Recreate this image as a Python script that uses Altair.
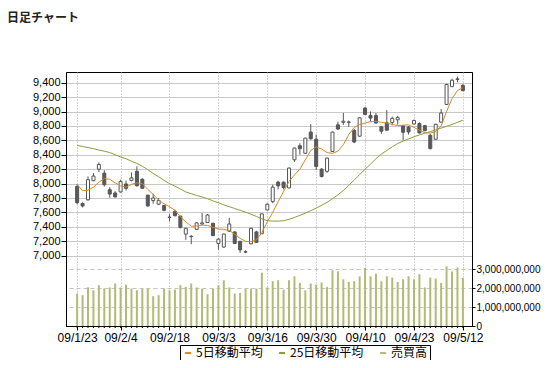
import altair as alt
import pandas as pd

# ---- data ----
dates = ["09/1/23", "09/1/26", "09/1/27", "09/1/28", "09/1/29", "09/1/30",
         "09/2/2", "09/2/3", "09/2/4", "09/2/5", "09/2/6", "09/2/9", "09/2/10", "09/2/12",
         "09/2/13", "09/2/16", "09/2/17", "09/2/18", "09/2/19", "09/2/20", "09/2/23",
         "09/2/24", "09/2/25", "09/2/26", "09/2/27",
         "09/3/2", "09/3/3", "09/3/4", "09/3/5", "09/3/6", "09/3/9", "09/3/10", "09/3/11",
         "09/3/12", "09/3/13", "09/3/16", "09/3/17", "09/3/18", "09/3/19", "09/3/23",
         "09/3/24", "09/3/25", "09/3/26", "09/3/27", "09/3/30", "09/3/31",
         "09/4/1", "09/4/2", "09/4/3", "09/4/6", "09/4/7", "09/4/8", "09/4/9", "09/4/10",
         "09/4/13", "09/4/14", "09/4/15", "09/4/16", "09/4/17", "09/4/20", "09/4/21",
         "09/4/22", "09/4/23", "09/4/24", "09/4/27", "09/4/28", "09/4/30",
         "09/5/1", "09/5/7", "09/5/8", "09/5/11", "09/5/12"]

tick_labels = ["09/1/23", "09/2/4", "09/2/18", "09/3/3", "09/3/16",
               "09/3/30", "09/4/10", "09/4/23", "09/5/12"]

opens = [7960, 7725, 7775, 8040, 8200, 8145, 7915, 7870, 7885, 7995, 8045, 8170,
         8060, 7840, 7765, 7715, 7695, 7530, 7615, 7550, 7300, 7265, 7365, 7440,
         7460, 7450, 7170, 7120, 7340, 7330, 7200, 7050, 7165, 7330, 7305, 7635,
         7750, 8020, 8020, 7940, 8330, 8525, 8420, 8715, 8615, 8200, 8170, 8445,
         8815, 8850, 8855, 8735, 8658, 9048, 8946, 8943, 8788, 8844, 8848, 8885,
         8800, 8784, 8827, 8832, 8804, 8670, 8615, 8852, 9098, 9345, 9445, 9362]

highs = [7995, 7740, 8100, 8145, 8295, 8185, 7950, 7895, 8055, 8040, 8155, 8240,
         8075, 7845, 7860, 7800, 7700, 7575, 7640, 7555, 7385, 7285, 7460, 7590,
         7580, 7455, 7240, 7305, 7525, 7335, 7205, 7075, 7385, 7345, 7585, 7725,
         7985, 8040, 8030, 8225, 8500, 8560, 8635, 8825, 8680, 8215, 8360, 8720,
         8860, 8980, 8875, 8760, 8925, 9060, 9000, 8980, 8795, 9020, 8930, 8940,
         8810, 8800, 8890, 8850, 8815, 8690, 8830, 9035, 9385, 9455, 9485, 9380]

lows = [7715, 7670, 7765, 8035, 8160, 7960, 7805, 7810, 7875, 7905, 8030, 7960,
        7925, 7680, 7720, 7700, 7615, 7475, 7545, 7380, 7220, 7160, 7360, 7430,
        7455, 7270, 7085, 7110, 7330, 7165, 7040, 7035, 7160, 7180, 7300, 7630,
        7730, 7920, 7920, 7935, 8300, 8400, 8410, 8610, 8190, 8085, 8150, 8440,
        8745, 8815, 8785, 8560, 8650, 8950, 8863, 8835, 8690, 8735, 8810, 8820,
        8600, 8680, 8820, 8695, 8725, 8475, 8610, 8850, 9090, 9340, 9405, 9280]

closes = [7735, 7690, 8055, 8105, 8265, 7985, 7855, 7815, 8030, 7935, 8080, 7970,
          7935, 7690, 7800, 7765, 7630, 7535, 7555, 7390, 7380, 7270, 7455, 7455,
          7565, 7280, 7230, 7300, 7440, 7170, 7080, 7055, 7380, 7185, 7580, 7715,
          7951, 7969, 7946, 8215, 8493, 8485, 8631, 8622, 8238, 8099, 8354, 8715,
          8757, 8865, 8850, 8577, 8913, 8960, 8909, 8840, 8727, 8741, 8905, 8915,
          8712, 8716, 8875, 8703, 8735, 8485, 8823, 8979, 9375, 9434, 9453, 9290]

ma5 = [7990, 7900, 7910, 7950, 8020, 8070, 8060, 8010, 7970, 7950, 7990, 8010,
       8000, 7920, 7850, 7770, 7720, 7680, 7630, 7540, 7470, 7410, 7410, 7425,
       7420, 7395, 7370, 7365, 7350, 7300, 7240, 7200, 7195, 7220, 7320, 7470,
       7600, 7750, 7890, 8030, 8120, 8200, 8330, 8460, 8510, 8480, 8430, 8420,
       8450, 8540, 8680, 8780, 8820, 8840, 8860, 8865, 8850, 8840, 8820, 8805,
       8810, 8815, 8780, 8740, 8705, 8700, 8720, 8800, 9000, 9180, 9290, 9330]

ma25 = [8530, 8515, 8500, 8485, 8465, 8450, 8430, 8400, 8370, 8345, 8310, 8280,
        8240, 8195, 8140, 8095, 8045, 8000, 7965, 7925, 7885, 7860, 7835, 7815,
        7790, 7760, 7735, 7705, 7680, 7655, 7630, 7605, 7575, 7545, 7510, 7485,
        7480, 7480, 7485, 7505, 7530, 7560, 7590, 7625, 7660, 7700, 7740, 7790,
        7845, 7905, 7975, 8050, 8125, 8200, 8270, 8345, 8410, 8460, 8510, 8555,
        8590, 8620, 8650, 8675, 8700, 8720, 8745, 8770, 8795, 8820, 8850, 8880]

volume_bn = [1.72, 1.63, 2.04, 1.89, 2.16, 1.98, 2.04, 2.25, 2.04, 2.19, 1.98, 1.89,
             1.98, 1.98, 1.58, 1.63, 1.98, 1.89, 1.93, 2.16, 2.07, 2.25, 2.04, 1.98,
             1.68, 1.98, 2.16, 2.42, 2.04, 1.72, 1.75, 1.98, 1.98, 1.98, 2.82, 2.04,
             2.37, 2.42, 1.93, 2.42, 2.63, 2.28, 1.89, 2.25, 2.19, 2.30, 2.07, 2.95,
             2.89, 2.47, 2.33, 2.37, 2.63, 3.07, 2.63, 2.77, 2.37, 2.63, 2.56, 2.33,
             2.47, 2.63, 2.47, 2.74, 2.04, 2.56, 2.51, 2.28, 3.16, 2.89, 3.09, 2.54]

series_names = ["5日移動平均", "25日移動平均", "売買高"]
series_colors = ["#cc8a2e", "#8f9b3a", "#b2bb74"]

price_ticks = [7000, 7200, 7400, 7600, 7800, 8000, 8200, 8400, 8600, 8800, 9000, 9200, 9400]
volume_ticks = [0, 1000000000, 2000000000, 3000000000]

# ---- tables ----
n = len(dates)
idx = list(range(n))
candles = pd.DataFrame({"idx": idx, "date": dates, "open": opens, "high": highs,
                        "low": lows, "close": closes})
vol = pd.DataFrame({"idx": idx, "volume": [v * 1e9 for v in volume_bn],
                    "series": ["売買高"] * n})
ma = pd.concat([
    pd.DataFrame({"idx": idx, "value": ma5, "series": series_names[0]}),
    pd.DataFrame({"idx": idx, "value": ma25, "series": series_names[1]}),
])

tick_idx = [dates.index(t) for t in tick_labels]
label_expr = "[" + ",".join("'" + d + "'" for d in dates) + "][datum.value]"

LABEL_FONT = "Liberation Sans"
CJK_FONT = "Noto Sans CJK JP"
PLOT_W, PLOT_H = 406, 254

x_scale = alt.Scale(domain=[-1.13, 71.76], nice=False, zero=False)
price_scale = alt.Scale(domain=[6025, 9548], nice=False, zero=False)
vol_scale = alt.Scale(domain=[0, 13.44e9], nice=False, zero=False)
color_scale = alt.Scale(domain=series_names, range=series_colors)

x_axis = alt.Axis(values=tick_idx, labelExpr=label_expr, title=None, labelAngle=0,
                  labelFont=LABEL_FONT, labelFontSize=12, labelColor="black",
                  tickColor="black", tickSize=4, labelPadding=2, domainColor="black",
                  grid=True, gridColor="#a8a8a8", gridDash=[1, 2],
                  labelOverlap=False, labelFlush=False)

y_price_axis = alt.Axis(values=price_ticks, labelExpr="format(datum.value, ',')",
                        title=None, labelFont=LABEL_FONT, labelFontSize=11,
                        labelColor="black", tickColor="black", tickSize=5,
                        labelPadding=1, domainColor="black", grid=True,
                        gridColor="#c8c8c8", labelOverlap=False, labelFlush=False)

y_vol_axis = alt.Axis(orient="right", values=volume_ticks,
                      labelExpr="format(datum.value, ',')", title=None,
                      labelFont=LABEL_FONT, labelFontSize=10, labelColor="black",
                      tickColor="black", tickSize=3, labelPadding=1,
                      domainColor="black", grid=True, gridColor="#c4c4c4",
                      gridDash=[4, 3], labelOverlap=False, labelFlush=False)

legend = alt.Legend(title=None, orient="none", legendX=114, legendY=273,
                    direction="horizontal", columns=3, strokeColor="black",
                    fillColor="white", padding=2, labelFont=CJK_FONT,
                    labelFontSize=12, labelColor="black", labelOffset=2,
                    columnPadding=13, symbolType="M-1,-0.2H1V0.2H-1Z",
                    symbolSize=30, symbolStrokeWidth=1)

X = alt.X("idx:Q", scale=x_scale, axis=x_axis)

# ---- volume layer (right axis) ----
volume_layer = alt.Chart(vol).mark_bar(size=2).encode(
    x=X,
    y=alt.Y("volume:Q", scale=vol_scale, axis=y_vol_axis),
    color=alt.Color("series:N", scale=color_scale, legend=legend),
)

# small per-session ticks under the date axis
minor_ticks = alt.Chart(candles).mark_rule(color="black", strokeWidth=1).encode(
    x=X,
    y=alt.value(PLOT_H),
    y2=alt.value(PLOT_H + 2),
)

# ---- price layers (left axis) ----
wicks = alt.Chart(candles).mark_rule(color="#555555", strokeWidth=1).encode(
    x=X,
    y=alt.Y("low:Q", scale=price_scale, axis=y_price_axis),
    y2="high:Q",
)

bodies = alt.Chart(candles).mark_bar(size=3, stroke="#555555", strokeWidth=1).encode(
    x=X,
    y=alt.Y("open:Q", scale=price_scale, axis=y_price_axis),
    y2="close:Q",
    fill=alt.condition("datum.close >= datum.open", alt.value("white"),
                       alt.value("#5a5a5a")),
)

ma_lines = alt.Chart(ma).mark_line(strokeWidth=1).encode(
    x=X,
    y=alt.Y("value:Q", scale=price_scale, axis=y_price_axis),
    color=alt.Color("series:N", scale=color_scale, legend=legend),
    detail="series:N",
)

price_group = alt.layer(wicks, bodies, ma_lines)

chart = alt.layer(volume_layer, price_group, minor_ticks).resolve_scale(
    y="independent"
).properties(
    width=PLOT_W,
    height=PLOT_H,
    autosize=alt.AutoSizeParams(type="none"),
    padding={"left": 58, "top": 64, "right": 70, "bottom": 34},
    background="white",
    title=alt.TitleParams("日足チャート", anchor="start", frame="group", dx=-59,
                          offset=47, font=CJK_FONT, fontSize=12, fontWeight="bold",
                          color="#222222"),
).configure_view(stroke="black", strokeWidth=1)

chart.save("out.html", embed_options={"renderer": "svg", "actions": False})
